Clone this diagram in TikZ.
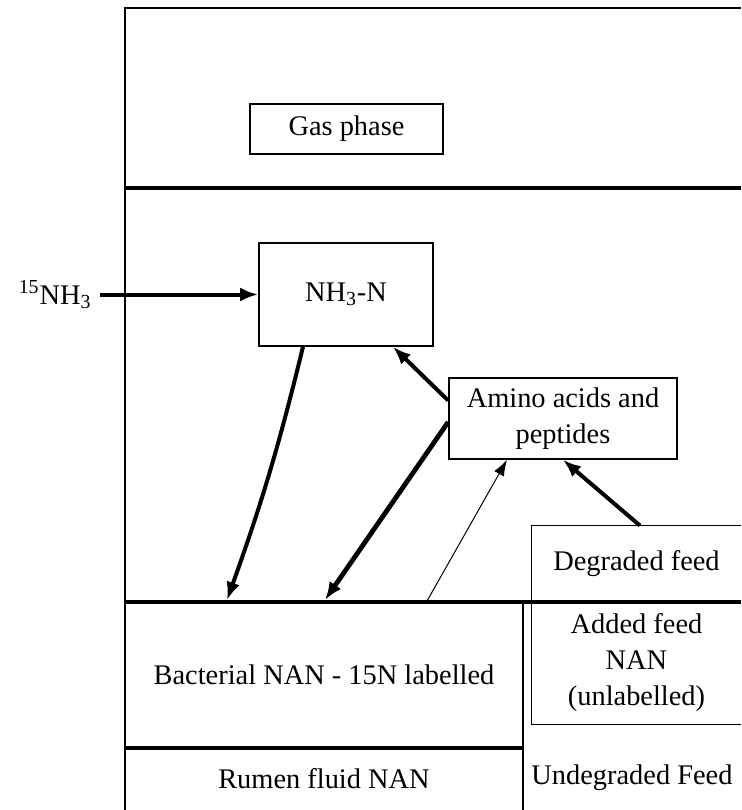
\documentclass[tikz,border=0pt]{standalone}
\usepackage{fontspec}
\setmainfont{Liberation Serif}
\usetikzlibrary{arrows.meta,positioning}
\tikzset{
  box/.style={
    draw,
    line width=0.8pt,
    align=center,
    inner sep=0pt,
    font=\fontsize{14.2}{18}\selectfont
  },
  pooltext/.style={
    align=center,
    inner sep=0pt,
    font=\fontsize{14.2}{18}\selectfont
  },
  wall/.style={line width=1pt},
  phase/.style={line width=1.8pt},
  flow/.style={-{Latex[length=9pt,width=7pt]}, line width=2pt},
  thinflow/.style={-{Latex[length=8pt,width=5.5pt]}, line width=0.5pt}
}
\begin{document}
\begin{tikzpicture}[x=0.5pt,y=-0.5pt]
  \useasboundingbox (0,0) rectangle (741,810);

  % frame and phase boundaries
  \draw[wall] (125,810) -- (125,8) -- (741,8);
  \draw[phase] (125,188) -- (741,188);
  \draw[phase] (125,602) -- (741,602);
  \draw[phase] (125,748) -- (523,748);
  \draw[wall] (523,602) -- (523,810);

  \node[box, minimum width=96.5pt, minimum height=25pt] (gas) at (346.5,129) {Gas phase};
  \node[box, minimum width=87pt, minimum height=51.5pt] (nh3) at (346,294.5) {NH\textsubscript{3}-N};
  \node[box, minimum width=114pt, minimum height=40.5pt] (amino) at (563,418.5) {Amino acids and\\peptides};
  \node[pooltext, anchor=east] (tracer) at (92,294.5) {\textsuperscript{15}NH\textsubscript{3}};
  \node[pooltext, minimum width=104.5pt, minimum height=38pt] (degraded) at (636.5,564) {Degraded feed};
  \node[pooltext, minimum width=104.5pt, minimum height=61pt] (added) at (636.5,663) {Added feed\\NAN\\(unlabelled)};
  \node[pooltext] (bacterial) at (324,675) {Bacterial NAN - 15N labelled};
  \node[pooltext] (rumen) at (324,779) {Rumen fluid NAN};
  \node[pooltext] (undegraded) at (632,778) {Undegraded Feed};

  % open feed box on the right
  \draw[line width=0.8pt] (degraded.north east) -- (degraded.north west)
    -- (added.south west) -- (added.south east);

  % points where flows meet the bacterial pool
  \coordinate (hitA) at (227,600);
  \coordinate (hitB) at (325,600);
  \coordinate (upC) at (427,601);

  \draw[flow] ([xshift=4pt]tracer.east) -- (nh3);
  \draw[flow] ([xshift=-21.5pt]nh3.south) to[bend left=3] (hitA);
  \draw[flow] ([yshift=9pt]amino.west) -- ([xshift=23.5pt]nh3.south);
  \draw[flow, line width=2.4pt] ([yshift=-1.75pt]amino.west) -- (hitB);
  \draw[thinflow] (upC) -- ([xshift=-28pt]amino.south);
  \draw[flow] ([xshift=1.75pt]degraded.north) -- (amino.south);
\end{tikzpicture}
\end{document}
